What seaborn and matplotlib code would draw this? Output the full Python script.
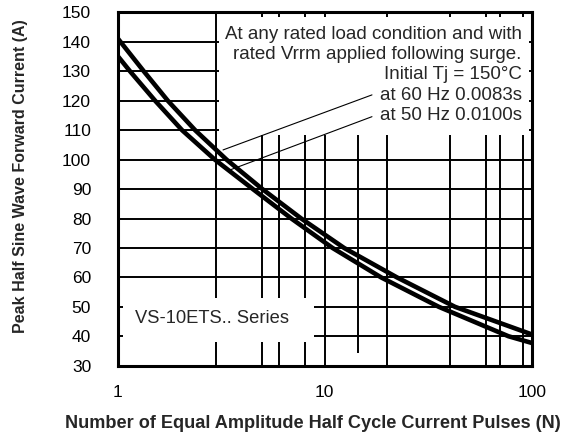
import matplotlib
matplotlib.use("Agg")
import matplotlib.pyplot as plt
import matplotlib.patches as mpatches
import numpy as np
import pandas as pd
import seaborn as sns

# ---- data ----
upper_n = [1, 1.34, 1.75, 2.37, 3.36, 5.0, 7.7, 12.4, 22.3, 42.5, 100]
upper_i = [141.3, 130, 120, 110, 100, 90, 80, 70, 60, 50, 40.6]
lower_n = [1, 1.15, 1.52, 2.05, 2.95, 4.5, 6.9, 10.9, 18.7, 35.5, 77, 100]
lower_i = [135.3, 130, 120, 110, 100, 90, 80, 70, 60, 50, 40, 37.7]
series_names = ["60 Hz", "50 Hz"]

y_ticks = [30, 40, 50, 60, 70, 80, 90, 100, 110, 120, 130, 140, 150]
x_ticks = [1, 10, 100]
x_tick_labels = ["1", "10", "100"]
h_grid = [40, 50, 60, 70, 80, 90, 100, 110, 120, 130, 140]
v_grid = [3, 5, 6, 8, 10, 20, 40, 60, 70, 90]
v_grid_short = [14.4]

note_lines = ["At any rated load condition and with",
              "rated Vrrm applied following surge.",
              "Initial Tj = 150°C",
              "at 60 Hz 0.0083s",
              "at 50 Hz 0.0100s"]
note_y = [142.6, 135.8, 128.8, 121.8, 115.0]
series_label = "VS-10ETS.. Series"
x_label = "Number of Equal Amplitude Half Cycle Current Pulses (N)"
y_label = "Peak Half Sine Wave Forward Current (A)"

df = pd.concat([
    pd.DataFrame({"N": upper_n, "I": upper_i, "s": series_names[0]}),
    pd.DataFrame({"N": lower_n, "I": lower_i, "s": series_names[1]}),
])

sns.set_style("white")
plt.rcParams["font.family"] = ["Liberation Sans", "DejaVu Sans"]

fig = plt.figure(figsize=(5.76, 4.44), dpi=100)
ax = fig.add_axes([0.2040, 0.1764, 0.7196, 0.7955])
ax.set_xscale("log")
ax.set_xlim(1, 100)
ax.set_ylim(30, 150)

# grid
for y in h_grid:
    ax.axhline(y, color="black", lw=1.4, zorder=1)
for x in v_grid:
    ax.axvline(x, color="black", lw=1.4, zorder=1)
for x in v_grid_short:
    ax.vlines(x, 34.3, 148.5, color="black", lw=1.4, zorder=1)

# white boxes that mask the grid
ax.add_patch(mpatches.Rectangle((3.1, 108.4), 96.7 - 3.1, 148.5 - 108.4,
                                facecolor="white", edgecolor="none", zorder=2))
ax.add_patch(mpatches.Rectangle((1.063, 38.05), 8.88 - 1.063, 53.0 - 38.05,
                                facecolor="white", edgecolor="none", zorder=2))

sns.lineplot(data=df, x="N", y="I", hue="s", palette=["black", "black"],
             legend=False, linewidth=3.3, ax=ax, zorder=3, sort=True)

# leader lines
ax.plot([3.23, 16.9], [103.3, 122.0], color="black", lw=0.8, zorder=4)
ax.plot([3.49, 16.9], [96.5, 114.6], color="black", lw=0.8, zorder=4)

for txt, yy in zip(note_lines, note_y):
    ax.text(89.2, yy, txt, ha="right", va="center", fontsize=13.5, zorder=5)
ax.text(1.215, 46.1, series_label, ha="left", va="center", fontsize=13.2, zorder=5)

ax.set_xticks(x_ticks)
ax.set_xticklabels(x_tick_labels)
ax.xaxis.set_minor_locator(matplotlib.ticker.NullLocator())
ax.set_yticks(y_ticks)
ax.tick_params(axis="both", length=0, labelsize=12.5, colors="black")
ax.tick_params(axis="y", pad=19)
ax.tick_params(axis="x", pad=14)
for sp in ax.spines.values():
    sp.set_visible(True)
    sp.set_color("black")
    sp.set_linewidth(2.2)
    sp.set_zorder(6)
ax.set_xlabel("")
ax.set_ylabel("")

fig.text(313 / 576, 1 - 423 / 444, x_label, ha="center", va="center",
         fontsize=13.1, fontweight="bold")
fig.text(20.5 / 576, 1 - 176 / 444, y_label, ha="center", va="center",
         rotation=90, fontsize=11.5, fontweight="bold")

fig.savefig("out.png", dpi=100)
